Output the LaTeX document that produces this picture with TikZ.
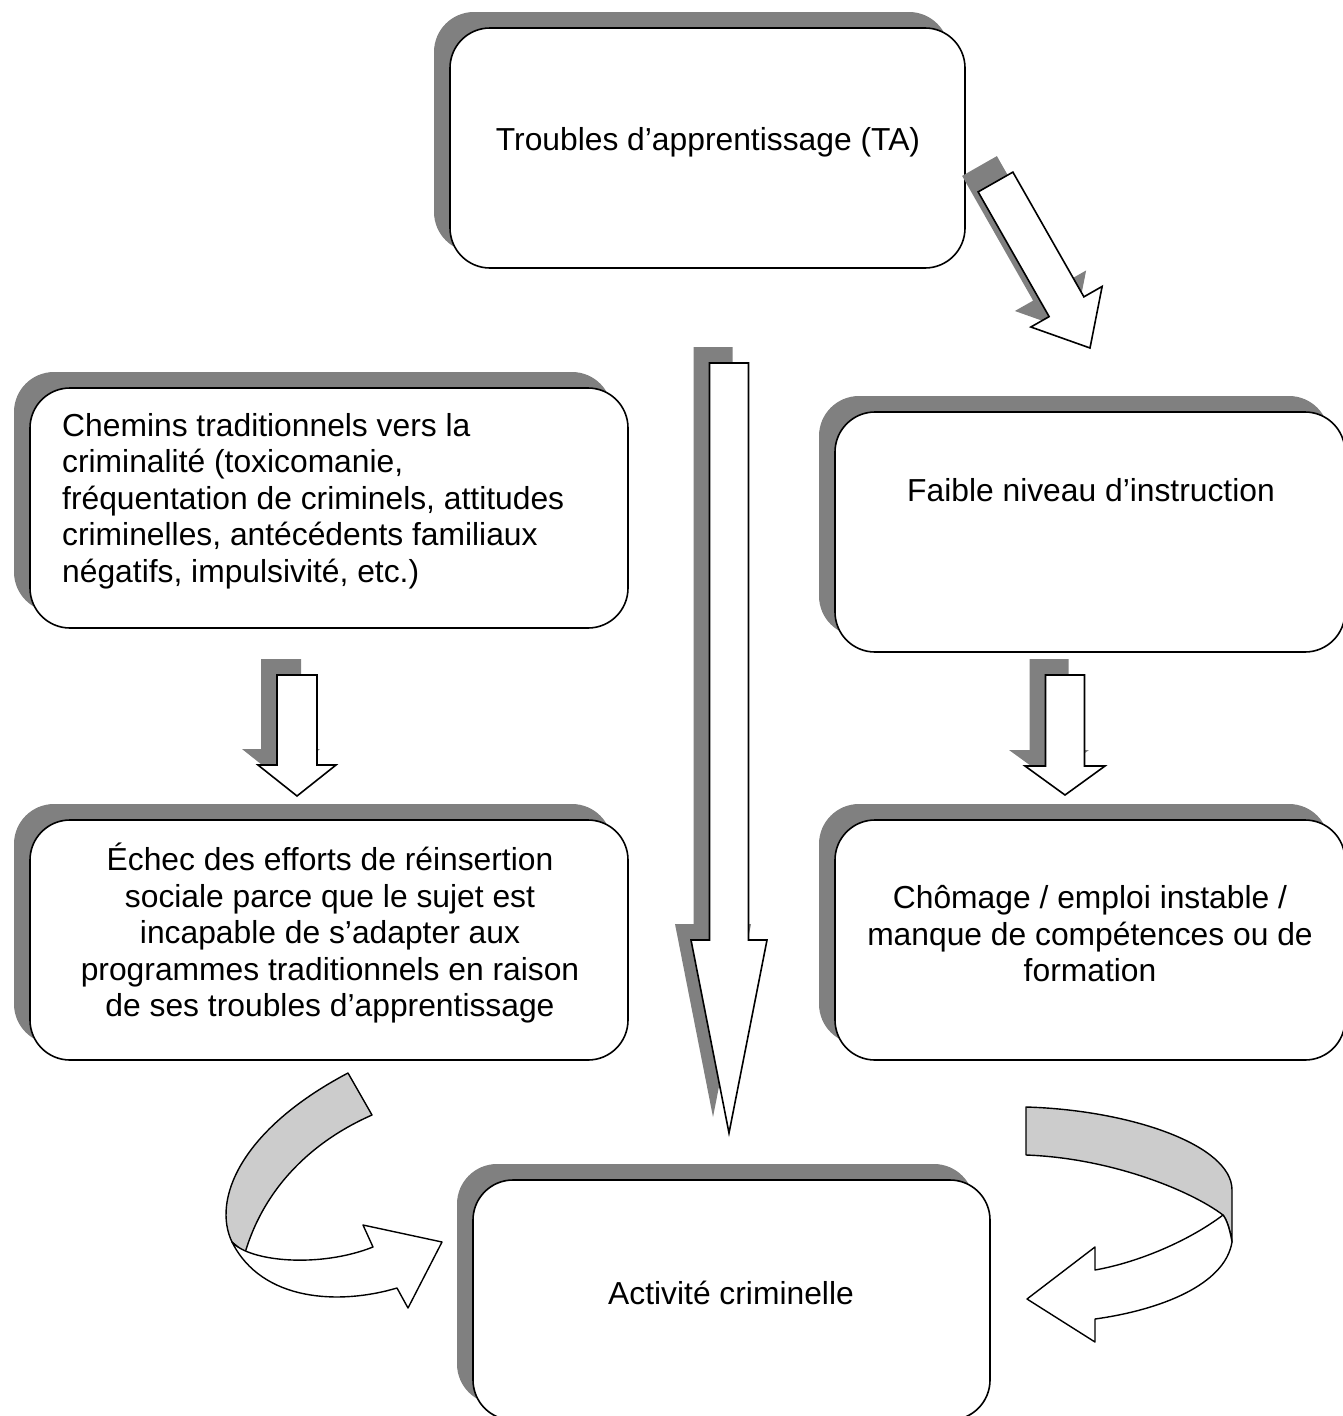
\documentclass[tikz,border=0pt]{standalone}
\usepackage{fontspec}
\setmainfont{Liberation Sans}
\usetikzlibrary{calc, shadows}
\definecolor{shadowgray}{RGB}{128,128,128}
\definecolor{ribbongray}{RGB}{204,204,204}

%% block arrow: tail, tip, half shaft, half head, head length
\newcommand{\blockarrow}[5]{%
  \coordinate (#1-hb) at ($(#2)!#5!(#1)$);
  \draw[barrow] ($(#1)!#3!90:(#2)$) -- ($(#1-hb)!#3!-90:(#1)$) -- ($(#1-hb)!#4!-90:(#1)$)
    -- (#2) -- ($(#1-hb)!#4!90:(#1)$) -- ($(#1-hb)!#3!90:(#1)$) -- ($(#1)!#3!-90:(#2)$) -- cycle;
}

\begin{document}
\begin{tikzpicture}[x=1pt, y=-1pt,
  dropsh/.style={drop shadow={shadow xshift=-16pt, shadow yshift=16pt, fill=shadowgray, opacity=1}},
  stage/.style={draw=black, line width=1.6pt, fill=white, rounded corners=40pt,
                inner sep=0pt, minimum height=240pt, dropsh},
  txt/.style={font=\fontsize{31.8}{36.5}\selectfont, inner sep=0pt, align=center},
  barrow/.style={draw=black, line width=1.6pt, fill=white, dropsh},
  ribbon/.style={draw=black, line width=1.4pt, line join=round}
]
  \useasboundingbox (0,0) rectangle (1343,1416);

  %% Boxes
  \node[stage, minimum width=515pt] (ta)       at (707.5,148)  {};
  \node[stage, minimum width=598pt] (chemins)  at (329,508)    {};
  \node[stage, minimum width=510pt] (faible)   at (1090,532)   {};
  \node[stage, minimum width=598pt] (echec)    at (329,940)    {};
  \node[stage, minimum width=510pt] (chomage)  at (1090,940)   {};
  \node[stage, minimum width=517pt] (activite) at (731.5,1300) {};

  %% Texts
  \node[txt] (ta-t) at (708,142) {Troubles d’apprentissage (TA)};
  \node[txt, align=left, anchor=west] (chemins-t) at (62,501)
    {Chemins traditionnels vers la\\criminalité (toxicomanie,\\fréquentation de criminels, attitudes\\criminelles, antécédents familiaux\\négatifs, impulsivité, etc.)};
  \node[txt] (faible-t) at (1091,490) {Faible niveau d’instruction};
  \node[txt] (echec-t) at (330,933)
    {Échec des efforts de réinsertion\\sociale parce que le sujet est\\incapable de s’adapter aux\\programmes traditionnels en raison\\de ses troubles d’apprentissage};
  \node[txt] (chomage-t) at (1090,934)
    {Chômage / emploi instable /\\manque de compétences ou de\\formation};
  \node[txt] (activite-t) at (731,1293) {Activité criminelle};

  %% Block arrows
  \coordinate (ta-out)      at (995.5,182);
  \coordinate (faible-in)   at (1090,348);
  \coordinate (ta-down)     at (729,363);
  \coordinate (activite-in) at (729,1133);
  \coordinate (chemins-out) at (297,675);
  \coordinate (echec-in)    at (297,796);
  \coordinate (faible-out)  at (1065,675);
  \coordinate (chomage-in)  at (1065,795);
  \blockarrow{ta-out}{faible-in}{20pt}{41pt}{47.5pt}
  \blockarrow{ta-down}{activite-in}{19.5pt}{38pt}{193pt}
  \blockarrow{chemins-out}{echec-in}{20pt}{39pt}{31pt}
  \blockarrow{faible-out}{chomage-in}{19.5pt}{40pt}{29pt}

  %% Left ribbon arrow (back, then front)
  \draw[ribbon, fill=ribbongray] (348,1073) -- (372,1115)
    .. controls (315,1140) and (265,1185) .. (245,1253) -- (232,1242)
    .. controls (212,1200) and (240,1130) .. (348,1073) -- cycle;
  \draw[ribbon, fill=white] (232,1242) .. controls (250,1262) and (320,1268) .. (373,1247)
    -- (363,1225) -- (442,1242) -- (408,1308) -- (397,1288)
    .. controls (340,1305) and (262,1302) .. (232,1242) -- cycle;

  %% Right ribbon arrow (back, then front)
  \draw[ribbon, fill=ribbongray] (1026,1107) .. controls (1130,1110) and (1232,1145) .. (1232,1190)
    -- (1232,1242) .. controls (1230,1230) and (1227,1220) .. (1223,1215)
    .. controls (1190,1190) and (1110,1158) .. (1026,1155) -- cycle;
  \draw[ribbon, fill=white] (1232,1242) .. controls (1230,1230) and (1227,1220) .. (1223,1215)
    .. controls (1190,1240) and (1140,1262) .. (1095,1270) -- (1095,1247) -- (1027,1299)
    -- (1095,1342) -- (1095,1319) .. controls (1160,1310) and (1225,1285) .. (1232,1242) -- cycle;
\end{tikzpicture}
\end{document}
